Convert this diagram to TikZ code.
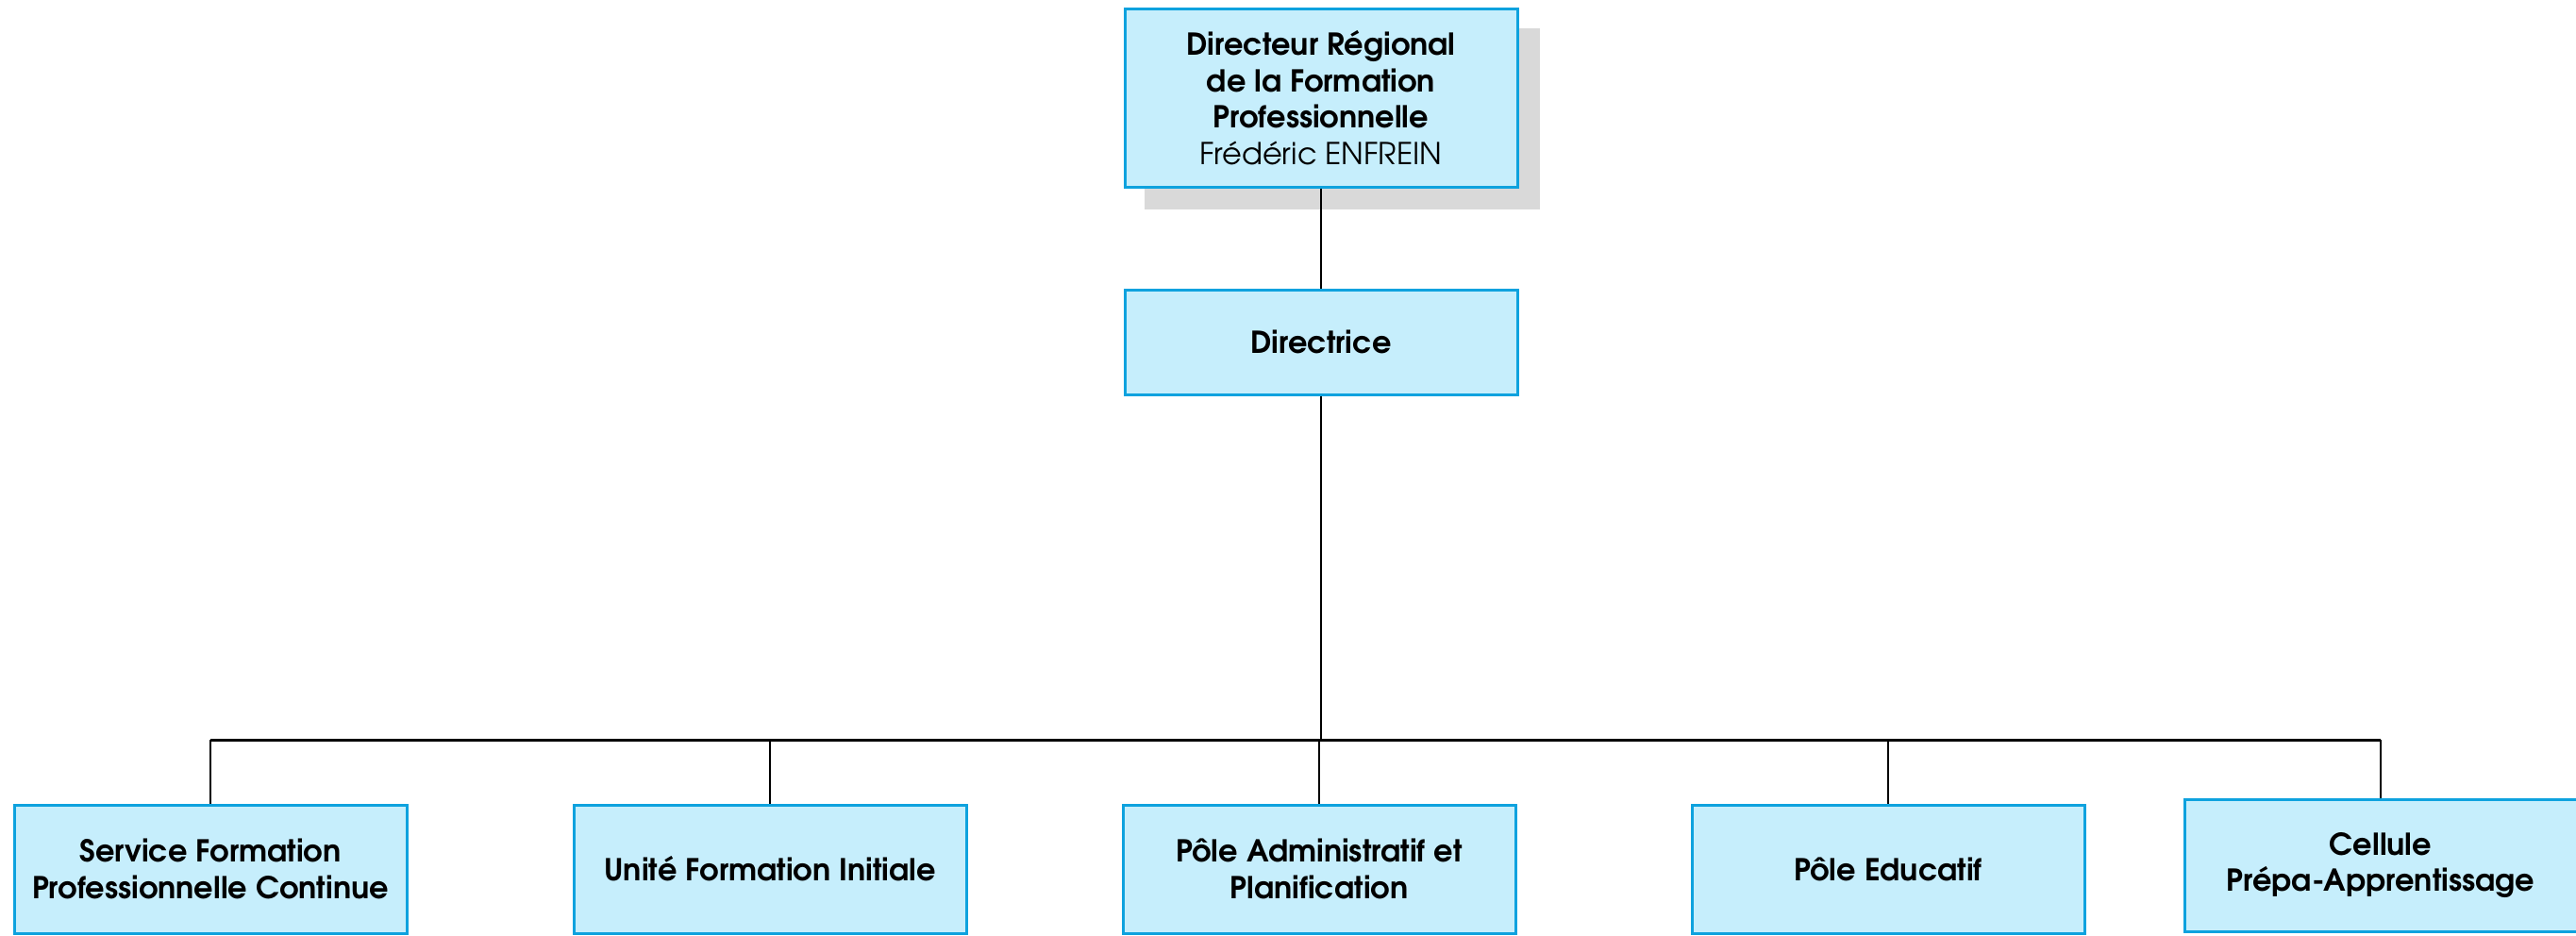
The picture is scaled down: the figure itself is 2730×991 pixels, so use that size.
\documentclass[tikz,border=0pt]{standalone}
\usepackage{fontspec}
\setmainfont{TeX Gyre Adventor}
\definecolor{boxfill}{HTML}{C6EEFC}
\definecolor{boxline}{HTML}{0EA2DE}
\definecolor{shadowc}{HTML}{D9D9D9}
\begin{document}
\begin{tikzpicture}[x=0.5pt,y=-0.5pt,
  orgbox/.style={draw=boxline, fill=boxfill, line width=1.5pt, minimum width=208pt,
    align=center, font=\fontsize{16}{19.25}\selectfont\bfseries, inner sep=0pt},
  link/.style={draw=black, line width=1pt},
  buslink/.style={draw=black, line width=1.5pt}]
\useasboundingbox (0,0) rectangle (2730,991);
\fill[shadowc] (1213,30) rectangle (1632,222);
\node[orgbox, minimum height=94.5pt] (dir) at (1400,103.5) {Directeur Régional\\de la Formation\\Professionnelle\\{\mdseries Frédéric ENFREIN}};
\node[orgbox, minimum height=55.5pt] (dice) at (1400,362.5) {Directrice};
\node[orgbox, minimum height=68pt] (sfpc) at (223,921) {Service Formation\\Professionnelle Continue};
\node[orgbox, minimum height=68pt] (ufi) at (816,921) {Unité Formation Initiale};
\node[orgbox, minimum height=68pt] (pap) at (1398,921) {Pôle Administratif et\\Planification};
\node[orgbox, minimum height=68pt] (pe) at (2001,921) {Pôle Educatif};
\node[orgbox, minimum height=70pt] (cpa) at (2523,917) {Cellule\\Prépa-Apprentissage};
\coordinate (bus) at (1400,784);
\draw[link] (dir.south) -- (dice.north);
\draw[link] (dice.south) -- (bus);
\draw[buslink] (sfpc.north |- bus) -- (cpa.north |- bus);
\draw[link] (sfpc.north) -- (sfpc.north |- bus);
\draw[link] (ufi.north) -- (ufi.north |- bus);
\draw[link] (pap.north) -- (pap.north |- bus);
\draw[link] (pe.north) -- (pe.north |- bus);
\draw[link] (cpa.north) -- (cpa.north |- bus);
\end{tikzpicture}
\end{document}
